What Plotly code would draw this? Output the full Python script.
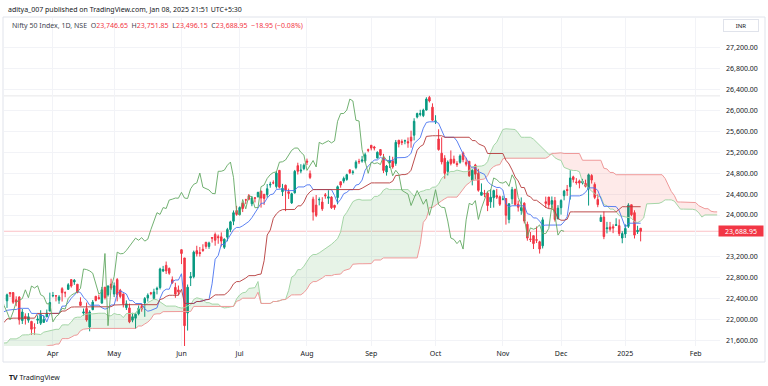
import numpy as np
import pandas as pd
import plotly.graph_objects as go

# ---------------- data ----------------
holidays = ["2024-03-08", "2024-03-25", "2024-03-29", "2024-04-11", "2024-04-17",
            "2024-05-01", "2024-05-20", "2024-06-17", "2024-07-17", "2024-08-15",
            "2024-10-02", "2024-11-15", "2024-11-20", "2024-12-25"]
special_sessions = ["2024-05-18"]

open_ = [
    22360, 22518, 22517, 22380, 22432, 21982, 22064, 21990, 21966, 21843, 21989, 21932, 21947, 22053, 22163,
    22455, 22458, 22372, 22592, 22515, 22579, 22765, 22720, 22677, 22339, 22125, 22212, 21861, 22191, 22447, 22421, 22316, 22620, 22475, 22679,
    22489, 22766, 22562, 22489, 22231, 22224, 21990, 22028, 22113, 22255, 22319, 22415, 22512, 22404, 22577, 22614, 22930, 23038, 22977, 22763, 22617, 22568,
    23337, 23179, 22128, 22798, 22821, 23319, 23283, 23344, 23480, 23399, 23570, 23629, 23586, 23584, 23383, 23577, 23723, 23881, 24085,
    24010, 24229, 24291, 24369, 24214, 24329, 24351, 24459, 24396, 24388, 24572, 24615, 24543, 24853, 24445, 24568, 24445, 24231, 24423, 24943, 24839, 24886,
    25030, 24789, 24303, 24189, 24290, 24248, 24386, 24321, 24342, 24184, 24334, 24636, 24648, 24680, 24863, 24812, 24907, 25025, 25030, 25035, 25249,
    25333, 25300, 25089, 25250, 25093, 24823, 24999, 25035, 24986, 25430, 25406, 25416, 25402, 25487, 25525, 25872, 25921, 25899, 26005, 26248, 26061,
    25788, 25453, 25181, 25084, 24832, 25065, 25067, 24985, 25008, 25186, 25008, 25027, 24665, 24956, 24798, 24378, 24412, 24418, 24251, 24329, 24371, 24349,
    24302, 24315, 23916, 24309, 24489, 24207, 24087, 24226, 23822, 23542, 23605, 23529, 23488, 23411, 24253, 24343, 24204, 24274, 23927,
    24140, 24367, 24488, 24540, 24729, 24633, 24652, 24615, 24604, 24499, 24754, 24584, 24297, 23877, 23961, 23738, 23770, 23775, 23801, 23796, 23560,
    23637, 23783, 24196, 24045, 23679, 23746.65]
high = [
    22497, 22525, 22527, 22446, 22447, 22204, 22120, 22125, 21977, 21930, 22081, 22180, 22073, 22193, 22516,
    22529, 22467, 22468, 22620, 22540, 22697, 22768, 22775, 22677, 22427, 22213, 22326, 22180, 22376, 22447, 22476, 22625, 22620, 22655, 22783,
    22711, 22795, 22588, 22499, 22368, 22307, 22131, 22131, 22270, 22297, 22432, 22502, 22530, 22591, 22630, 22993, 23027, 23110, 22998, 22825, 22705, 22652,
    23338, 23179, 22671, 22910, 23320, 23412, 23389, 23441, 23482, 23490, 23579, 23665, 23625, 23668, 23553, 23754, 23889, 24087, 24174,
    24164, 24236, 24309, 24401, 24364, 24345, 24443, 24461, 24402, 24592, 24635, 24662, 24837, 24855, 24595, 24582, 24504, 24426, 24861, 24999, 24971, 24984,
    25078, 24851, 24350, 24382, 24337, 24340, 24420, 24473, 24359, 24196, 24563, 24638, 24734, 24787, 24867, 24858, 25044, 25074, 25130, 25192, 25268,
    25333, 25321, 25216, 25260, 25168, 24957, 25131, 25113, 25434, 25430, 25445, 25441, 25482, 25611, 25849, 25956, 26011, 26032, 26251, 26277, 26134,
    25907, 25639, 25485, 25143, 25044, 25234, 25135, 25029, 25159, 25213, 25093, 25029, 24874, 24978, 24882, 24604, 24480, 24440, 24492, 24484, 24499, 24372,
    24368, 24316, 24229, 24537, 24503, 24276, 24336, 24243, 23873, 23675, 23606, 23780, 23507, 23956, 24351, 24344, 24354, 24345, 24188,
    24301, 24481, 24574, 24857, 24751, 24705, 24677, 24691, 24676, 24792, 24781, 24624, 24394, 24005, 24066, 23869, 23868, 23823, 23938, 23916, 23690,
    23822, 24226, 24196, 24090, 23795, 23751.85]
low = [
    22224, 22431, 22300, 22256, 21905, 21917, 21906, 21941, 21711, 21710, 21917, 21897, 21947, 22053, 22163,
    22428, 22349, 22302, 22346, 22428, 22569, 22612, 22665, 22503, 22259, 22079, 21962, 21777, 22180, 22349, 22384, 22305, 22385, 22441, 22568,
    22432, 22349, 22409, 22233, 22185, 21932, 21950, 21821, 22082, 22151, 22054, 22345, 22467, 22404, 22483, 22577, 22909, 22872, 22858, 22685, 22417, 22466,
    23062, 21281, 21791, 22642, 22789, 23207, 23206, 23295, 23354, 23353, 23473, 23413, 23450, 23398, 23351, 23497, 23673, 23806, 23985,
    23993, 24056, 24207, 24281, 24168, 24240, 24331, 24141, 24193, 24331, 24522, 24587, 24505, 24508, 24362, 24074, 24307, 24211, 24410, 24774, 24798, 24856,
    24956, 24686, 23894, 23960, 24184, 24079, 24311, 24212, 24116, 24100, 24204, 24522, 24607, 24654, 24784, 24771, 24874, 24973, 25000, 24999, 25200,
    25235, 25235, 25083, 25126, 24801, 24753, 24897, 24885, 24941, 25292, 25336, 25352, 25285, 25286, 25426, 25847, 25886, 25871, 25998, 26151, 25794,
    25739, 25230, 24967, 24694, 24756, 24947, 24979, 24920, 24981, 25008, 24929, 24729, 24567, 24679, 24445, 24378, 24341, 24074, 24135, 24141, 24307, 24172,
    24280, 23816, 23842, 24205, 24179, 24066, 24004, 23839, 23509, 23484, 23350, 23465, 23263, 23360, 24135, 24125, 24145, 23874, 23917,
    24008, 24281, 24366, 24295, 24620, 24580, 24510, 24584, 24527, 24180, 24601, 24303, 24149, 23870, 23538, 23648, 23685, 23653, 23800, 23599, 23460,
    23562, 23751, 23977, 23551, 23637, 23496.15]
close = [
    22474, 22494, 22332, 22335, 21997, 22146, 22023, 22056, 21817, 21839, 22012, 22096, 22005, 22124, 22327,
    22462, 22453, 22434, 22514, 22513, 22666, 22642, 22753, 22519, 22272, 22147, 21995, 22147, 22336, 22368, 22402, 22570, 22420, 22643, 22605,
    22648, 22476, 22443, 22303, 22302, 21958, 22055, 22104, 22218, 22201, 22404, 22467, 22502, 22529, 22597, 22968, 22957, 22932, 22888, 22704, 22488, 22531,
    23264, 21885, 22620, 22821, 23290, 23259, 23264, 23323, 23399, 23466, 23558, 23517, 23567, 23501, 23538, 23721, 23869, 24044, 24011,
    24142, 24124, 24286, 24302, 24324, 24321, 24433, 24324, 24316, 24502, 24587, 24613, 24801, 24531, 24509, 24479, 24413, 24406, 24835, 24836, 24857, 24951,
    25011, 24718, 24056, 23993, 24297, 24117, 24368, 24347, 24139, 24144, 24541, 24573, 24699, 24770, 24812, 24823, 25010, 25017, 25052, 25152, 25236,
    25279, 25280, 25198, 25145, 24852, 24936, 25041, 24918, 25389, 25357, 25384, 25419, 25378, 25416, 25791, 25939, 25940, 26005, 26216, 26179, 25811,
    25797, 25250, 25015, 24796, 25013, 24982, 24998, 24964, 25128, 25058, 24971, 24750, 24854, 24781, 24472, 24435, 24400, 24181, 24339, 24467, 24341, 24205,
    24304, 23995, 24213, 24484, 24199, 24148, 24141, 23884, 23559, 23533, 23453, 23518, 23349, 23907, 24222, 24195, 24275, 23915, 24131,
    24276, 24457, 24468, 24708, 24677, 24620, 24610, 24641, 24548, 24768, 24668, 24336, 24198, 23952, 23588, 23753, 23728, 23751, 23813, 23645, 23645,
    23743, 24189, 24005, 23616, 23707, 23688.95]

# earlier history (Nov 2023 - Mar 5 2024), only used for the Ichimoku spans
pre_high = [19875, 19806, 19756, 19806, 19825, 19875, 19838, 19917, 20104, 20158, 20292, 20702, 20864, 20961,
            20941, 21006, 21026, 21037, 20950, 21211, 21492, 21482, 21505, 21593, 21288, 21390, 21477, 21675,
            21801, 21770, 21834, 21755, 21677, 21685, 21749, 21763, 21725, 21641, 21726, 21928, 22115, 22124,
            21851, 21539, 21671, 21649, 21750, 21482, 21459, 21763, 21813, 21741, 21832, 22127, 21964, 21951,
            22053, 22011, 21804, 21831, 21767, 21870, 21953, 22068, 22187, 22216, 22250, 22253, 22297, 22229,
            22218, 22229, 22060, 22354, 22420, 22440, 22416]
pre_low = [19627, 19705, 19670, 19728, 19703, 19768, 19771, 19768, 19908, 19957, 20183, 20507, 20711, 20853,
           20868, 20863, 20924, 20867, 20769, 21074, 21355, 21365, 21392, 21087, 20977, 21232, 21329, 21495,
           21678, 21677, 21680, 21555, 21500, 21564, 21629, 21492, 21500, 21448, 21593, 21715, 21963, 21969,
           21550, 21285, 21575, 21500, 21192, 21137, 21248, 21429, 21501, 21448, 21658, 21806, 21741, 21710,
           21860, 21665, 21629, 21574, 21549, 21530, 21860, 21997, 22021, 21963, 22021, 21875, 22187, 22087,
           22045, 21915, 21860, 22048, 22359, 22336, 22327]

month_labels = ["Apr", "May", "Jun", "Jul", "Aug", "Sep", "Oct", "Nov", "Dec", "2025", "Feb"]
price_ticks = [21600, 22000, 22400, 22800, 23200, 23600, 24000, 24400, 24800,
               25200, 25600, 26000, 26400, 26800, 27200]
last_price = 23688.95
all_time_high = 26277
tenkan_len, kijun_len, spanb_len, displacement = 9, 26, 52, 26

# ---------------- trading calendar ----------------
d = pd.bdate_range("2024-03-06", "2025-01-08")
d = d[~d.isin(pd.to_datetime(holidays))]
d = d.append(pd.to_datetime(special_sessions)).sort_values()
assert len(d) == len(close) == len(open_) == len(high) == len(low), (len(d), len(close))
future = pd.bdate_range("2025-01-09", periods=displacement)
all_dates = d.append(future)
n = len(close)
x = np.arange(n)

pos = np.arange(len(all_dates))
per = all_dates.to_period("M")
first = [int(p) for k, p in enumerate(pos) if k > 0 and per[k] != per[k - 1]]
tickvals = first[:len(month_labels)]

# ---------------- ichimoku ----------------
H = np.array(pre_high + high, dtype=float)
L = np.array(pre_low + low, dtype=float)
npre = len(pre_high)


def midpoint(length):
    out = np.full(len(H), np.nan)
    for t in range(length - 1, len(H)):
        out[t] = (H[t - length + 1:t + 1].max() + L[t - length + 1:t + 1].min()) / 2
    return out


tenkan = midpoint(tenkan_len)
kijun = midpoint(kijun_len)
spanb = midpoint(spanb_len)
spana = (tenkan + kijun) / 2
xall = np.arange(len(H)) - npre
off = displacement - 1
xs = xall + off
valid = ~np.isnan(spanb) & ~np.isnan(spana)
xc, A, B = xs[valid], spana[valid], spanb[valid]
M = np.maximum(A, B)

UP, DN = "#089981", "#F23645"
fig = go.Figure()
nl = dict(width=0)
fig.add_trace(go.Scatter(x=xc, y=B, mode="lines", line=nl, hoverinfo="skip"))
fig.add_trace(go.Scatter(x=xc, y=M, mode="lines", line=nl, fill="tonexty",
                         fillcolor="rgba(67,160,71,0.13)", hoverinfo="skip"))
fig.add_trace(go.Scatter(x=xc, y=A, mode="lines", line=nl, hoverinfo="skip"))
fig.add_trace(go.Scatter(x=xc, y=M, mode="lines", line=nl, fill="tonexty",
                         fillcolor="rgba(244,67,54,0.11)", hoverinfo="skip"))
fig.add_trace(go.Scatter(x=xc, y=A, mode="lines", line=dict(color="#A5D6A7", width=1)))
fig.add_trace(go.Scatter(x=xc, y=B, mode="lines", line=dict(color="#EF9A9A", width=1)))

fig.add_trace(go.Candlestick(
    x=x, open=open_, high=high, low=low, close=close,
    increasing=dict(line=dict(color=UP, width=1), fillcolor=UP),
    decreasing=dict(line=dict(color=DN, width=1), fillcolor=DN),
    whiskerwidth=0))

fig.add_trace(go.Scatter(x=xall, y=tenkan, mode="lines", line=dict(color="#4a74f0", width=0.9)))
fig.add_trace(go.Scatter(x=xall, y=kijun, mode="lines", line=dict(color="#b53a3a", width=0.9)))
fig.add_trace(go.Scatter(x=x - off, y=close, mode="lines", line=dict(color="#62a862", width=0.9)))

# ---------------- layout ----------------
W, HGT = 768, 386
LM, RM, TM, BM = 4, 48, 18, 40
pw, ph = W - LM - RM, HGT - TM - BM


def px(v):
    return (v - LM) / pw


def py(v):
    return 1 - (v - TM) / ph


FONT = "Noto Sans"
TXT = "#131722"
ann = []
ann.append(dict(x=px(6), y=py(9), xref="paper", yref="paper", xanchor="left", yanchor="middle",
                text="aditya_007 published on TradingView.com, Jan 08, 2025 21:51 UTC+5:30",
                showarrow=False, font=dict(family=FONT, size=7, color=TXT)))
R = "#F23645"
legend = ("Nifty 50 Index, 1D, NSE&nbsp;&nbsp;"
          f"O<span style='color:{R}'>23,746.65</span>&nbsp;&nbsp;"
          f"H<span style='color:{R}'>23,751.85</span>&nbsp;&nbsp;"
          f"L<span style='color:{R}'>23,496.15</span>&nbsp;&nbsp;"
          f"C<span style='color:{R}'>23,688.95</span>&nbsp;&nbsp;"
          f"<span style='color:{R}'>\u221218.95 (\u22120.08%)</span>")
ann.append(dict(x=px(10), y=py(25), xref="paper", yref="paper", xanchor="left", yanchor="middle",
                text=legend, showarrow=False, font=dict(family=FONT, size=7, color="#434651")))
ann.append(dict(x=px(741), y=py(25), xref="paper", yref="paper", xanchor="center", yanchor="middle",
                text="INR", showarrow=False, width=34, height=11, bgcolor="white",
                bordercolor="#e0e3eb", borderwidth=1, borderpad=0,
                font=dict(family=FONT, size=6, color=TXT)))
ann.append(dict(x=px(741), y=last_price, xref="paper", yref="y", xanchor="center", yanchor="middle",
                text=f"{last_price:,.2f}", showarrow=False, width=44, height=10, bgcolor=DN,
                borderpad=0, font=dict(family=FONT, size=7, color="white")))
ann.append(dict(x=px(7), y=py(377), xref="paper", yref="paper", xanchor="left", yanchor="middle",
                text="<b>TV</b> TradingView", showarrow=False,
                font=dict(family=FONT, size=7, color=TXT)))

shapes = [
    dict(type="line", xref="paper", yref="y", x0=0, x1=1, y0=last_price, y1=last_price,
         line=dict(color="rgba(242,54,69,0.3)", width=1), layer="below"),
    dict(type="line", xref="paper", yref="y", x0=0, x1=1, y0=all_time_high, y1=all_time_high,
         line=dict(color="rgba(120,123,134,0.18)", width=1), layer="below"),
    dict(type="rect", xref="paper", yref="paper", x0=px(3), x1=px(765), y0=py(362), y1=py(17),
         line=dict(color="#e0e3eb", width=1), layer="below"),
]

y0v = 24000 - (346 - 215) / 0.05232
y1v = 24000 + (215 - 18) / 0.05232
x0v = (LM - 7.0) / 3.061
x1v = (W - RM - 7.0) / 3.061

# the 23,600 tick label sits under the last-price badge, so it is left blank
ytext = ["" if abs(v - last_price) < 150 else f"{v:,.2f}" for v in price_ticks]

fig.update_layout(
    width=W, height=HGT, margin=dict(l=LM, r=RM, t=TM, b=BM),
    paper_bgcolor="white", plot_bgcolor="white", showlegend=False,
    annotations=ann, shapes=shapes,
    xaxis=dict(range=[x0v, x1v], tickvals=tickvals, ticktext=month_labels,
               showgrid=True, gridcolor="#f2f3f7", gridwidth=1, zeroline=False,
               showline=False, ticks="", rangeslider=dict(visible=False),
               tickfont=dict(family=FONT, size=7, color=TXT), ticklabelstandoff=2),
    yaxis=dict(range=[y0v, y1v], side="right", tickvals=price_ticks, ticktext=ytext,
               showgrid=True, gridcolor="#f2f3f7", gridwidth=1, zeroline=False,
               showline=False, ticks="", ticklabelstandoff=5,
               tickfont=dict(family=FONT, size=7, color=TXT)),
)
fig.write_html("out.html", config={"displayModeBar": False},
               post_script="document.body.style.margin='0';document.body.style.overflow='hidden';")
